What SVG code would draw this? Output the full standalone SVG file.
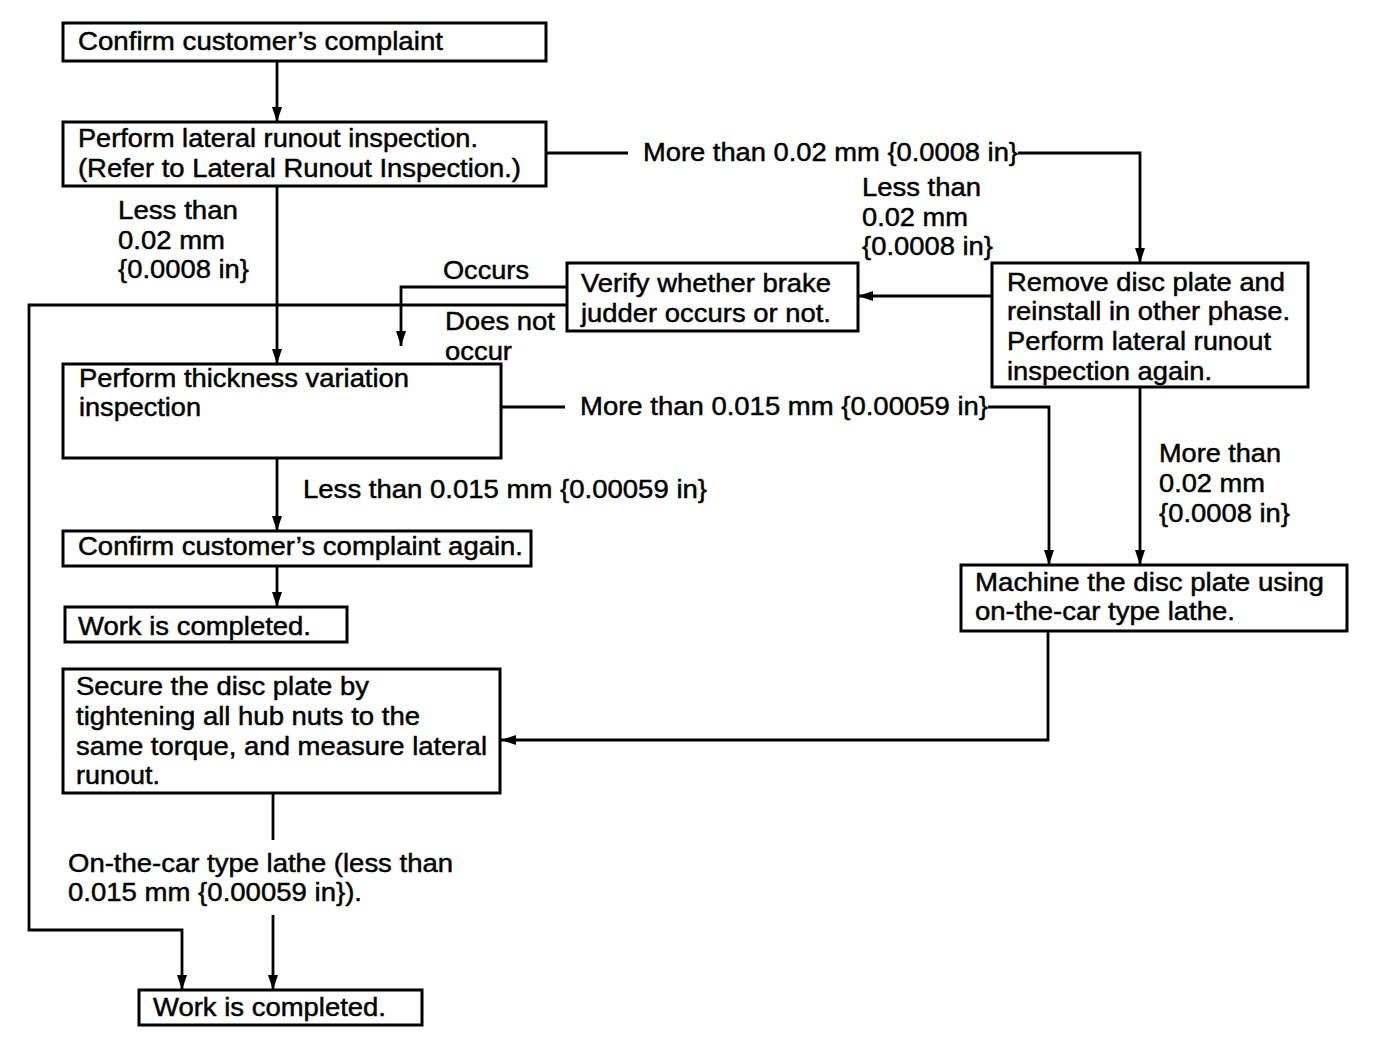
<svg xmlns="http://www.w3.org/2000/svg" width="1392" height="1042" viewBox="0 0 1392 1042">
<style>
.box{fill:#fff;stroke:#000;stroke-width:3}
.ln{fill:none;stroke:#000;stroke-width:2.8}
text{font-family:"Liberation Sans",Arial,Helvetica,sans-serif;font-size:25px;fill:#000;stroke:#000;stroke-width:0.45}
</style>
<defs>
<marker id="ah" viewBox="0 0 15 10" refX="15" refY="5" markerWidth="15" markerHeight="10" markerUnits="userSpaceOnUse" orient="auto">
<path d="M0,0 L15,5 L0,10 z" fill="#000"/>
</marker>
</defs>
<rect width="1392" height="1042" fill="#fff"/>
<g id="connectors">
<path class="ln" d="M277,61 V122" marker-end="url(#ah)"/>
<path class="ln" d="M546,153 H628"/>
<path class="ln" d="M1018,153 H1140 V263" marker-end="url(#ah)"/>
<path class="ln" d="M992,296 H858" marker-end="url(#ah)"/>
<path class="ln" d="M567,287 H401 V346" marker-end="url(#ah)"/>
<path class="ln" d="M567,305 H29 V930 H182 V990" marker-end="url(#ah)"/>
<path class="ln" d="M277,186 V364" marker-end="url(#ah)"/>
<path class="ln" d="M501,407 H565"/>
<path class="ln" d="M988,407 H1049 V565" marker-end="url(#ah)"/>
<path class="ln" d="M1140,387 V565" marker-end="url(#ah)"/>
<path class="ln" d="M277,458 V531" marker-end="url(#ah)"/>
<path class="ln" d="M277,566 V607" marker-end="url(#ah)"/>
<path class="ln" d="M1048,631 V740 H501" marker-end="url(#ah)"/>
<path class="ln" d="M273,793 V840"/>
<path class="ln" d="M273,915 V990" marker-end="url(#ah)"/>
<text x="643" y="161" textLength="375" lengthAdjust="spacingAndGlyphs">More than 0.02 mm {0.0008 in}</text>
<text x="862" y="196" textLength="119" lengthAdjust="spacingAndGlyphs">Less than</text>
<text x="862" y="226" textLength="106" lengthAdjust="spacingAndGlyphs">0.02 mm</text>
<text x="862" y="255" textLength="131" lengthAdjust="spacingAndGlyphs">{0.0008 in}</text>
<text x="443" y="279" textLength="86" lengthAdjust="spacingAndGlyphs">Occurs</text>
<text x="445" y="330" textLength="110" lengthAdjust="spacingAndGlyphs">Does not</text>
<text x="445" y="360" textLength="67" lengthAdjust="spacingAndGlyphs">occur</text>
<text x="118" y="219" textLength="120" lengthAdjust="spacingAndGlyphs">Less than</text>
<text x="118" y="249" textLength="107" lengthAdjust="spacingAndGlyphs">0.02 mm</text>
<text x="118" y="278" textLength="131" lengthAdjust="spacingAndGlyphs">{0.0008 in}</text>
<text x="580" y="415" textLength="408" lengthAdjust="spacingAndGlyphs">More than 0.015 mm {0.00059 in}</text>
<text x="303" y="498" textLength="404" lengthAdjust="spacingAndGlyphs">Less than 0.015 mm {0.00059 in}</text>
<text x="1159" y="462" textLength="122" lengthAdjust="spacingAndGlyphs">More than</text>
<text x="1159" y="492" textLength="106" lengthAdjust="spacingAndGlyphs">0.02 mm</text>
<text x="1159" y="522" textLength="131" lengthAdjust="spacingAndGlyphs">{0.0008 in}</text>
<text x="68" y="872" textLength="385" lengthAdjust="spacingAndGlyphs">On-the-car type lathe (less than</text>
<text x="68" y="901" textLength="294" lengthAdjust="spacingAndGlyphs">0.015 mm {0.00059 in}).</text>
</g>
<g id="n-confirm">
<rect class="box" x="63" y="23" width="483" height="38"/>
<text x="78" y="50" textLength="365" lengthAdjust="spacingAndGlyphs">Confirm customer’s complaint</text>
</g>
<g id="n-lateral">
<rect class="box" x="63" y="122" width="483" height="64"/>
<text x="78" y="147" textLength="400" lengthAdjust="spacingAndGlyphs">Perform lateral runout inspection.</text>
<text x="78" y="177" textLength="443" lengthAdjust="spacingAndGlyphs">(Refer to Lateral Runout Inspection.)</text>
</g>
<g id="n-remove">
<rect class="box" x="992" y="263" width="316" height="124"/>
<text x="1007" y="291" textLength="278" lengthAdjust="spacingAndGlyphs">Remove disc plate and</text>
<text x="1007" y="320" textLength="283" lengthAdjust="spacingAndGlyphs">reinstall in other phase.</text>
<text x="1007" y="350" textLength="264" lengthAdjust="spacingAndGlyphs">Perform lateral runout</text>
<text x="1007" y="380" textLength="205" lengthAdjust="spacingAndGlyphs">inspection again.</text>
</g>
<g id="n-verify">
<rect class="box" x="567" y="263" width="291" height="68"/>
<text x="581" y="292" textLength="250" lengthAdjust="spacingAndGlyphs">Verify whether brake</text>
<text x="581" y="322" textLength="250" lengthAdjust="spacingAndGlyphs">judder occurs or not.</text>
</g>
<g id="n-thickness">
<rect class="box" x="63" y="364" width="438" height="94"/>
<text x="79" y="387" textLength="330" lengthAdjust="spacingAndGlyphs">Perform thickness variation</text>
<text x="79" y="416" textLength="122" lengthAdjust="spacingAndGlyphs">inspection</text>
</g>
<g id="n-machine">
<rect class="box" x="961" y="565" width="386" height="66"/>
<text x="975" y="591" textLength="349" lengthAdjust="spacingAndGlyphs">Machine the disc plate using</text>
<text x="975" y="620" textLength="260" lengthAdjust="spacingAndGlyphs">on-the-car type lathe.</text>
</g>
<g id="n-confirm-again">
<rect class="box" x="63" y="531" width="468" height="35"/>
<text x="78" y="555" textLength="445" lengthAdjust="spacingAndGlyphs">Confirm customer’s complaint again.</text>
</g>
<g id="n-done1">
<rect class="box" x="65" y="607" width="282" height="35"/>
<text x="78" y="635" textLength="233" lengthAdjust="spacingAndGlyphs">Work is completed.</text>
</g>
<g id="n-secure">
<rect class="box" x="63" y="669" width="437" height="124"/>
<text x="76" y="695" textLength="293" lengthAdjust="spacingAndGlyphs">Secure the disc plate by</text>
<text x="76" y="725" textLength="344" lengthAdjust="spacingAndGlyphs">tightening all hub nuts to the</text>
<text x="76" y="755" textLength="411" lengthAdjust="spacingAndGlyphs">same torque, and measure lateral</text>
<text x="76" y="784" textLength="84" lengthAdjust="spacingAndGlyphs">runout.</text>
</g>
<g id="n-done2">
<rect class="box" x="139" y="990" width="283" height="35"/>
<text x="153" y="1016" textLength="233" lengthAdjust="spacingAndGlyphs">Work is completed.</text>
</g>
</svg>
